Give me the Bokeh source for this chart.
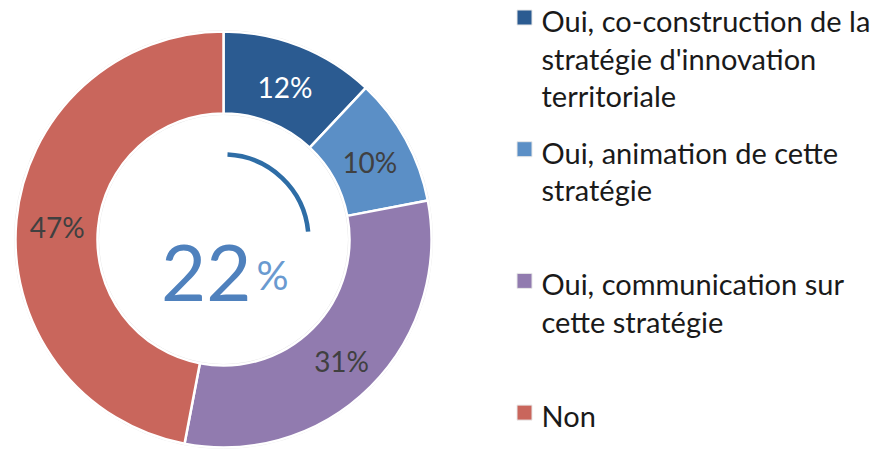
import math
from bokeh.plotting import figure
from bokeh.models import Range1d, ColumnDataSource
from bokeh.core.properties import value
from bokeh.embed import file_html
from bokeh.resources import INLINE

# ---- data ----
categories = [
    "Oui, co-construction de la stratégie d'innovation territoriale",
    "Oui, animation de cette stratégie",
    "Oui, communication sur cette stratégie",
    "Non",
]
legend_lines = [
    ["Oui, co-construction de la", "stratégie d'innovation", "territoriale"],
    ["Oui, animation de cette", "stratégie"],
    ["Oui, communication sur", "cette stratégie"],
    ["Non"],
]
values = [12, 10, 31, 47]
colors = ["#2B5B91", "#5B8FC6", "#917BAF", "#C9665C"]
label_colors = ["#FFFFFF", "#404040", "#404040", "#404040"]
highlight_count = 2  # the central figure sums the first two categories

FONT = "Lato"
W, H = 877, 452
def sx(v):
    return v
def sy(v):
    return H - v

p = figure(width=W, height=H, x_range=Range1d(0, W), y_range=Range1d(0, H),
           output_backend="svg", toolbar_location=None,
           x_axis_type=None, y_axis_type=None, min_border=0)
p.grid.visible = False
p.outline_line_color = None
p.background_fill_color = "white"

cx, cy = sx(223), sy(239)
r_in, r_out = 126, 208
total = sum(values)
starts, ends, mids = [], [], []
cum = 0
for v in values:
    a0 = math.pi / 2 - 2 * math.pi * cum / total
    cum += v
    a1 = math.pi / 2 - 2 * math.pi * cum / total
    starts.append(a0)
    ends.append(a1)
    mids.append((a0 + a1) / 2)

src = ColumnDataSource(dict(start=starts, end=ends, color=colors))
p.circle(x=[cx], y=[cy], radius=r_out + 1, fill_color=None, line_color="#E2E2E2", line_width=1)
p.circle(x=[cx], y=[cy], radius=r_in - 1, fill_color=None, line_color="#E2E2E2", line_width=1)
p.annular_wedge(x=cx, y=cy, inner_radius=r_in, outer_radius=r_out,
                start_angle="start", end_angle="end", direction="clock",
                fill_color="color", line_color="white", line_width=2.5, source=src)

r_lab = (r_in + r_out) / 2
lx = [cx + r_lab * math.cos(a) for a in mids]
ly = [cy + r_lab * math.sin(a) - 3 for a in mids]
p.text(x=lx, y=ly, text=[f"{v}%" for v in values], text_color=label_colors,
       text_font=value(FONT), text_font_size="28px", text_align="center",
       text_baseline="middle")

# central highlight
pct = sum(values[:highlight_count])
p.arc(x=cx, y=cy, radius=85, start_angle=math.radians(90 - 2.7),
      end_angle=math.radians(90 - 84.7), direction="clock",
      line_color="#2E6DA6", line_width=4.5)
p.text(x=[sx(251)], y=[sy(272)], text=[f"{pct}"], text_color="#4F81BD",
       text_font=value(FONT), text_font_size="78px", text_align="right",
       text_baseline="alphabetic")
p.text(x=[sx(256)], y=[sy(274)], text=["%"], text_color="#6A9AD0",
       text_font=value(FONT), text_font_size="40px", text_align="left",
       text_baseline="alphabetic")

# legend
leg_y0, leg_step, line_h = 20, 131.7, 37.5
for i, lines in enumerate(legend_lines):
    y_first = leg_y0 + i * leg_step
    p.rect(x=[sx(524)], y=[sy(y_first - 3)], width=15, height=15,
           fill_color=colors[i], line_color="#E8E8E8", line_width=1)
    ys = [sy(y_first + j * line_h) for j in range(len(lines))]
    p.text(x=[sx(541)] * len(lines), y=ys, text=lines, text_color="#1A1A1A",
           text_font=value(FONT), text_font_size="29px", text_align="left",
           text_baseline="middle")

open("out.html", "w").write(file_html(p, INLINE))
